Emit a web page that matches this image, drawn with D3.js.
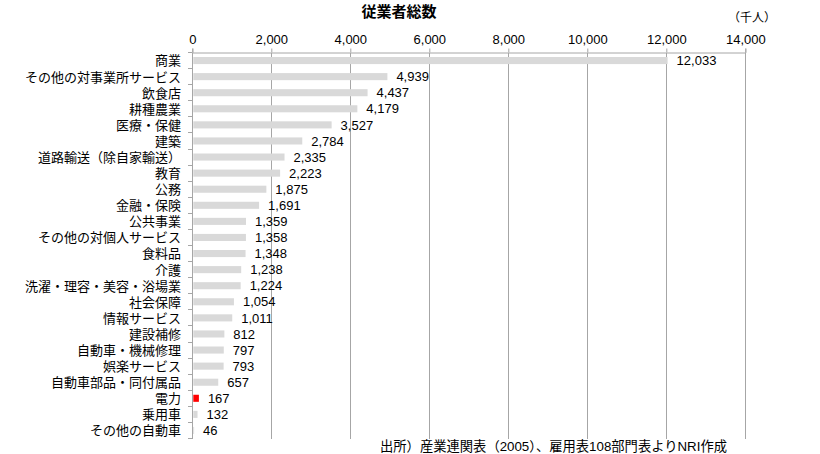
<!DOCTYPE html>
<html><head><meta charset="utf-8">
<script src="https://cdn.jsdelivr.net/npm/d3@7"></script>
<style>
body{margin:0;background:#fff;}
svg{display:block;}
</style></head>
<body>
<script>
const categories = ["商業","その他の対事業所サービス","飲食店","耕種農業","医療・保健","建築","道路輸送（除自家輸送）","教育","公務","金融・保険","公共事業","その他の対個人サービス","食料品","介護","洗濯・理容・美容・浴場業","社会保障","情報サービス","建設補修","自動車・機械修理","娯楽サービス","自動車部品・同付属品","電力","乗用車","その他の自動車"];
const values = [12033,4939,4437,4179,3527,2784,2335,2223,1875,1691,1359,1358,1348,1238,1224,1054,1011,812,797,793,657,167,132,46];
const highlight = ["電力"];
const tickValues = [0,2000,4000,6000,8000,10000,12000,14000];
const title = "従業者総数";
const unit = "（千人）";
const source = "出所）産業連関表（2005）、雇用表108部門表よりNRI作成";

const W=820,H=454;
const svg=d3.select("body").append("svg").attr("width",W).attr("height",H);
const jp="'Liberation Sans','Noto Sans CJK JP',sans-serif";
const num="'Liberation Sans',Arial,sans-serif";

const x=d3.scaleLinear().domain([0,14000]).range([192.3,745.3]);
const y=d3.scaleBand().domain(categories).range([52.5,438.5]).paddingInner(0.56).paddingOuter(0.28);

// gridlines
svg.append("g").selectAll("line").data(tickValues.slice(1)).join("line")
  .attr("x1",d=>x(d)).attr("x2",d=>x(d)).attr("y1",52.5).attr("y2",438.5)
  .attr("stroke","#a6a6a6").attr("stroke-width",1).attr("shape-rendering","crispEdges");

// top axis
const xa=svg.append("g").attr("transform","translate(0,52.5)")
  .call(d3.axisTop(x).tickValues(tickValues).tickSize(4).tickPadding(5).tickFormat(d3.format(",")));
xa.select(".domain").attr("stroke","#a6a6a6");
xa.selectAll(".tick line").attr("stroke","#a6a6a6");
xa.selectAll("text").attr("font-family",num).attr("font-size","13px").attr("fill","#000");

// left axis line and ticks at band boundaries
svg.append("line").attr("x1",x(0)).attr("x2",x(0)).attr("y1",52.5).attr("y2",438.5)
  .attr("stroke","#a6a6a6").attr("shape-rendering","crispEdges");
const bounds=d3.range(categories.length+1).map(i=>52.5+i*(386/categories.length));
svg.append("g").selectAll("line").data(bounds).join("line")
  .attr("x1",x(0)-4).attr("x2",x(0)).attr("y1",d=>d).attr("y2",d=>d)
  .attr("stroke","#a6a6a6").attr("shape-rendering","crispEdges");

// bars
svg.append("g").selectAll("rect").data(categories).join("rect")
  .attr("x",x(0)+1).attr("y",d=>y(d)).attr("height",y.bandwidth())
  .attr("width",(d,i)=>Math.max(0,x(values[i])-x(0)-1))
  .attr("fill",d=>highlight.includes(d)?"#ff0000":"#d9d9d9");

// category labels
svg.append("g").selectAll("text").data(categories).join("text")
  .attr("x",181).attr("y",d=>y(d)+y.bandwidth()/2).attr("dy","0.38em")
  .attr("text-anchor","end").attr("font-family",jp).attr("font-size","13px").attr("fill","#000")
  .text(d=>d);

// value labels
svg.append("g").selectAll("text").data(categories).join("text")
  .attr("x",(d,i)=>x(values[i])+9).attr("y",d=>y(d)+y.bandwidth()/2).attr("dy","0.36em")
  .attr("font-family",num).attr("font-size","13px").attr("fill","#000")
  .text((d,i)=>d3.format(",")(values[i]));

// title
svg.append("text").attr("x",399).attr("y",17).attr("text-anchor","middle")
  .attr("font-family",jp).attr("font-weight","bold").attr("font-size","15px").text(title);
svg.append("text").attr("x",752).attr("y",22).attr("text-anchor","middle")
  .attr("font-family",jp).attr("font-size","12px").text(unit);
svg.append("text").attr("x",727).attr("y",451).attr("text-anchor","end")
  .attr("font-family",jp).attr("font-size","13.3px").text(source);
</script>
</body></html>
